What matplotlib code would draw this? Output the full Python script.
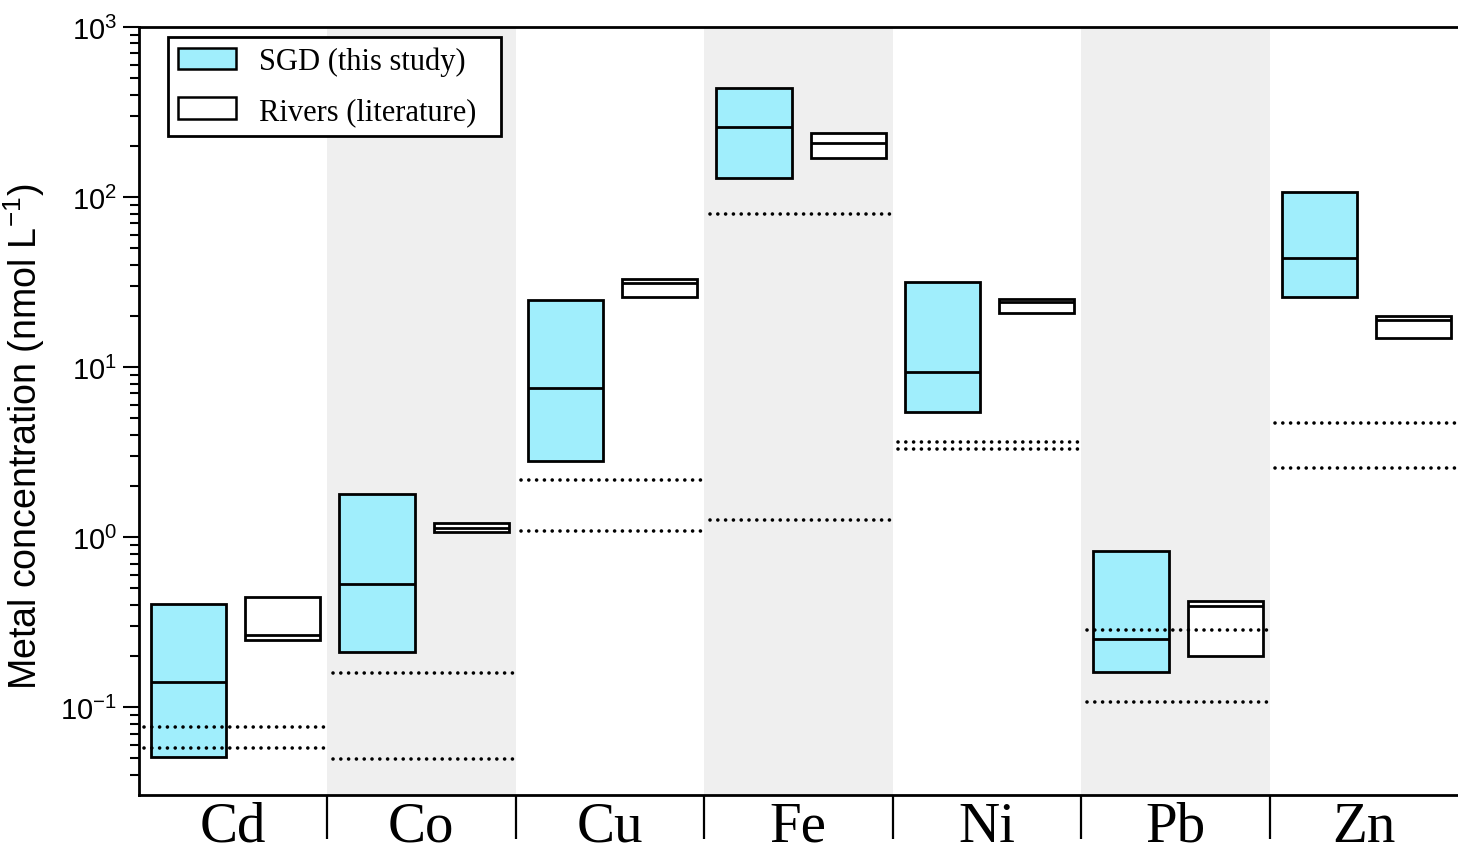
import matplotlib
matplotlib.use("Agg")
import matplotlib.pyplot as plt
from matplotlib.patches import Patch
from matplotlib.ticker import LogLocator, FixedLocator, NullFormatter
import numpy as np

# Metals and concentration ranges (nmol/L)
metals = ["Cd", "Co", "Cu", "Fe", "Ni", "Pb", "Zn"]

sgd_low = [0.0508, 0.211, 2.81, 129.5, 5.48, 0.161, 26.0]
sgd_median = [0.140, 0.531, 7.53, 257.0, 9.42, 0.252, 43.9]
sgd_high = [0.403, 1.80, 24.9, 439.0, 31.8, 0.833, 107.0]

river_low = [0.249, 1.07, 25.8, 169.0, 20.9, 0.201, 14.9]
river_median = [0.267, 1.13, 31.2, 209.0, 24.1, 0.392, 19.0]
river_high = [0.444, 1.21, 33.0, 239.0, 25.1, 0.422, 20.0]

# Reference levels drawn as dotted lines across each metal's column
ref_upper = [0.0767, 0.160, 2.17, 79.4, 3.65, 0.283, 4.69]
ref_lower = [0.0576, 0.0496, 1.09, 1.27, 3.30, 0.1076, 2.55]

SERIF = ["Liberation Serif", "DejaVu Serif"]
SANS = ["Liberation Sans", "DejaVu Sans"]

plt.rcParams["font.family"] = SANS
plt.rcParams["mathtext.fontset"] = "custom"
plt.rcParams["mathtext.rm"] = "Liberation Sans"
plt.rcParams["mathtext.it"] = "Liberation Sans:italic"
plt.rcParams["axes.unicode_minus"] = False

fig = plt.figure(figsize=(14.58, 8.54), dpi=100)
W, H = 1458, 854
ax = fig.add_axes([138.5 / W, 1 - 796 / H, (W - 138.5) / W, (796 - 28) / H])

x = np.arange(len(metals))
box_w = 0.40
off_sgd = -0.235
off_riv = 0.265
edge_lw = 2.0

# alternating background columns
for i in x:
    if i % 2 == 1:
        ax.axvspan(i - 0.5, i + 0.5, color="#efefef", lw=0, zorder=0)

sgd_low_a = np.array(sgd_low)
sgd_high_a = np.array(sgd_high)
riv_low_a = np.array(river_low)
riv_high_a = np.array(river_high)

ax.bar(x + off_sgd, sgd_high_a - sgd_low_a, bottom=sgd_low_a, width=box_w,
       color="#a0eefc", edgecolor="black", linewidth=edge_lw, zorder=3)
ax.bar(x + off_riv, riv_high_a - riv_low_a, bottom=riv_low_a, width=box_w,
       color="white", edgecolor="black", linewidth=edge_lw, zorder=3)

ax.hlines(sgd_median, x + off_sgd - box_w / 2, x + off_sgd + box_w / 2,
          colors="black", linewidth=edge_lw, zorder=4)
ax.hlines(river_median, x + off_riv - box_w / 2, x + off_riv + box_w / 2,
          colors="black", linewidth=edge_lw, zorder=4)

# reference dotted lines, drawn over the boxes
for i in x:
    for v in (ref_upper[i], ref_lower[i]):
        ax.plot([i - 0.47, i + 0.5], [v, v], color="black", linewidth=2.6,
                linestyle=(0, (0.01, 2.15)), dash_capstyle="round", zorder=5)

# axes setup
ax.set_yscale("log")
ax.set_ylim(0.0305, 1000)
ax.set_xlim(-0.5, 6.5)

ax.yaxis.set_major_locator(LogLocator(base=10, numticks=10))
ax.yaxis.set_minor_locator(LogLocator(base=10, subs=np.arange(2, 10), numticks=20))
ax.yaxis.set_minor_formatter(NullFormatter())
ax.tick_params(axis="y", which="major", direction="out", length=11.5, width=1.5,
               labelsize=21, pad=4)
ax.tick_params(axis="y", which="minor", direction="out", length=6.5, width=1.5)

ax.set_xticks(x)
ax.set_xticklabels(metals, fontfamily=SERIF, fontsize=41)
ax.xaxis.set_minor_locator(FixedLocator(np.arange(0.5, 6.0, 1.0)))
ax.tick_params(axis="x", which="major", length=0, pad=4)
ax.tick_params(axis="x", which="minor", direction="out", length=32, width=1.6)

for side in ("left", "bottom", "top"):
    ax.spines[side].set_linewidth(2.0)
ax.spines["right"].set_visible(False)

ax.set_ylabel("Metal concentration (nmol L$^{-1}$)", fontsize=27)
ax.yaxis.set_label_coords((47 - 138.5) / (W - 138.5), (796 - 437) / (796 - 28))

handles = [
    Patch(facecolor="#a0eefc", edgecolor="black", linewidth=1.8, label="SGD (this study)  "),
    Patch(facecolor="white", edgecolor="black", linewidth=1.8, label="Rivers (literature)  "),
]
leg = ax.legend(handles=handles, loc="upper left",
                bbox_to_anchor=(168 / W, 1 - 38 / H), bbox_transform=fig.transFigure,
                prop={"family": SERIF, "size": 22}, frameon=True, fancybox=False,
                framealpha=1, edgecolor="black", borderaxespad=0,
                handlelength=1.9, handleheight=0.72, handletextpad=0.75,
                labelspacing=0.68, borderpad=0.32)
leg.get_frame().set_linewidth(2.0)
leg.set_zorder(10)

fig.savefig("out.png", dpi=100)
